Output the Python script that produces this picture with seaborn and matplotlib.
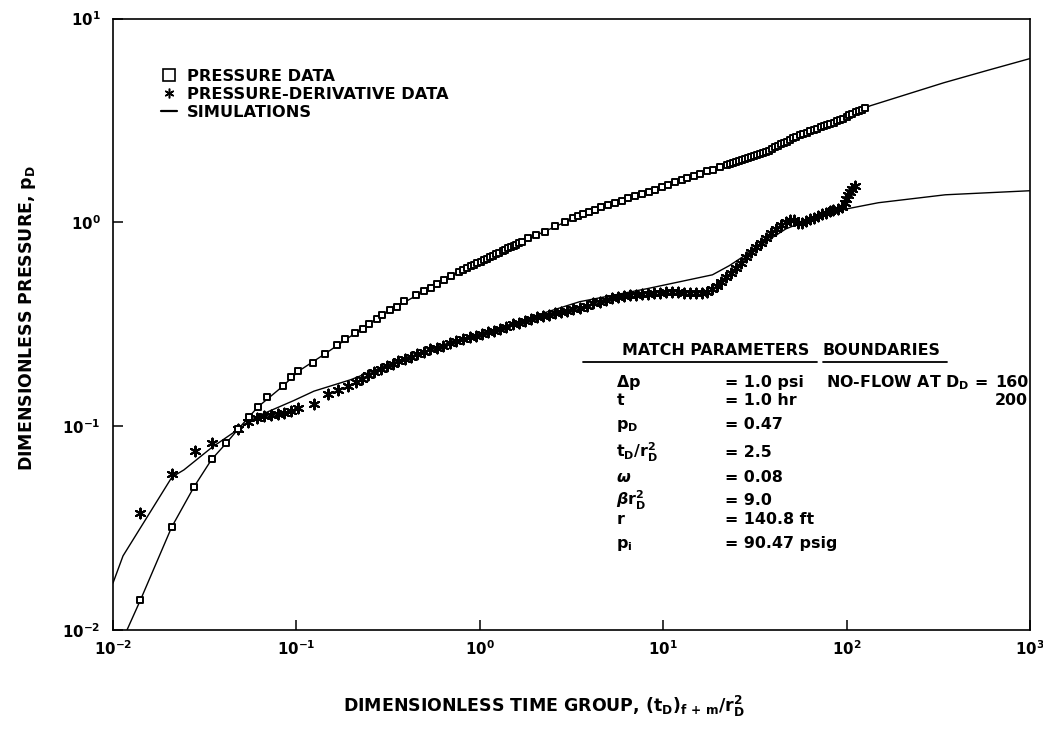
import pandas as pd
import seaborn as sns
import matplotlib.pyplot as plt
from matplotlib.lines import Line2D

# ---- datos ----
t_pres = [0.0141, 0.0209, 0.0277, 0.0345, 0.0415, 0.0482, 0.0552, 0.0618, 0.0690, 0.0841,
          0.0929, 0.1026, 0.1236, 0.1434, 0.1671, 0.1841, 0.2087, 0.2297, 0.2484, 0.2739,
          0.2945, 0.322, 0.352, 0.3877, 0.4517, 0.4976, 0.543, 0.5855, 0.6388, 0.6974, 0.770,
          0.81, 0.85, 0.89, 0.93, 0.97, 1.01, 1.05, 1.09, 1.13, 1.18, 1.23, 1.28, 1.33, 1.38,
          1.43, 1.48, 1.53, 1.58, 1.63, 1.69,
          1.838, 2.035, 2.279, 2.577, 2.923, 3.229, 3.435,
          3.659, 3.942, 4.250, 4.575, 4.997, 5.455, 5.949, 6.414, 7.001, 7.636, 8.339, 8.988,
          9.80, 10.56, 11.54, 12.59, 13.56, 14.81, 15.95, 17.42, 18.78, 20.50, 22.36, 23.2,
          24.10, 25.0, 25.99, 27.0, 28.02, 29.1, 30.19, 31.3, 32.54, 33.8, 35.04, 36.4, 37.78,
          39.2, 40.69, 42.2, 43.87, 45.5, 47.30, 49.1, 50.94, 53.2, 55.62, 58.1, 60.72, 63.4,
          66.22, 69.2, 72.28, 75.0, 77.85, 81.3, 84.99, 88.2, 91.5, 95.6, 99.9, 103.7, 107.6,
          112.5, 117.5, 121.7, 126.0]
p_pres = [0.0140, 0.0320, 0.0505, 0.0687, 0.0826, 0.0969, 0.1115, 0.1245, 0.1385, 0.1567,
          0.1738, 0.186, 0.204, 0.2265, 0.249, 0.2664, 0.2857, 0.299, 0.3174, 0.3348,
          0.3513, 0.3727, 0.3852, 0.4089, 0.438, 0.4588, 0.4754, 0.4972, 0.521, 0.546, 0.571,
          0.584, 0.596, 0.608, 0.619, 0.631, 0.642, 0.653, 0.663, 0.673, 0.686, 0.698, 0.711,
          0.722, 0.734, 0.745, 0.756, 0.767, 0.778, 0.788, 0.801,
          0.840, 0.869, 0.900, 0.955, 0.999, 1.045, 1.072,
          1.097, 1.123, 1.156, 1.191, 1.220, 1.248, 1.278, 1.309, 1.340, 1.379, 1.413, 1.446,
          1.489, 1.525, 1.570, 1.617, 1.646, 1.695, 1.736, 1.777, 1.810, 1.863, 1.907, 1.930,
          1.954, 1.977, 2.000, 2.018, 2.036, 2.060, 2.085, 2.115, 2.146, 2.165, 2.184, 2.216,
          2.249, 2.289, 2.329, 2.370, 2.412, 2.447, 2.483, 2.533, 2.584, 2.630, 2.677, 2.717,
          2.757, 2.798, 2.839, 2.881, 2.923, 2.958, 2.993, 3.037, 3.082, 3.128, 3.174, 3.230,
          3.286, 3.344, 3.403, 3.46, 3.52, 3.575, 3.63]

t_deriv = [0.0141, 0.02097, 0.02788, 0.0345, 0.0483, 0.0547, 0.0611, 0.0667, 0.0729, 0.0796,
           0.0858, 0.0937, 0.1022, 0.1249, 0.1485, 0.1684, 0.1907, 0.2109, 0.2271, 0.2447,
           0.2640, 0.2877, 0.3102, 0.3342, 0.3602, 0.3886, 0.4190, 0.4568, 0.4989, 0.5373,
           0.5865, 0.6324, 0.6905, 0.7444, 0.8120, 0.8866, 0.9559, 1.031, 1.110, 1.197,
           1.290, 1.391, 1.517, 1.636, 1.764, 1.902, 2.048, 2.208, 2.381, 2.567,
           2.768, 2.985, 3.215, 3.510, 3.832, 4.131, 4.506, 4.859, 5.238, 5.647,
           6.089, 6.559, 7.072, 7.624, 8.221, 8.866, 9.559, 10.30, 11.11, 11.98,
           12.92, 13.93, 15.02, 16.20, 17.24, 18.36, 19.53, 20.79, 22.11, 23.54,
           25.03, 26.62, 28.36, 30.16, 32.06, 34.14, 36.31, 38.61, 41.11, 43.72,
           46.56, 48.95, 51.48, 54.13, 56.91, 59.84, 62.92, 66.08, 69.48, 73.06,
           76.82, 80.77, 84.83, 89.21, 93.80, 97.4, 99.7, 102.2, 104.8, 107.4, 111.4]
p_deriv = [0.0373, 0.0582, 0.0757, 0.0831, 0.0967, 0.1047, 0.1097, 0.1124, 0.1138, 0.1152,
           0.1166, 0.1181, 0.1221, 0.1282, 0.1438, 0.1508, 0.1579, 0.1654, 0.1713, 0.1774,
           0.1835, 0.1900, 0.1968, 0.2016, 0.2087, 0.2135, 0.2186, 0.2264, 0.2318, 0.2401,
           0.2431, 0.2487, 0.2547, 0.2608, 0.2671, 0.2735, 0.2769, 0.2836, 0.2900, 0.2936,
           0.3007, 0.3079, 0.3189, 0.3225, 0.3266, 0.3344, 0.3424, 0.3463, 0.3506, 0.3591,
           0.3636, 0.3681, 0.3765, 0.3812, 0.3904, 0.3998, 0.4048, 0.4145, 0.4240, 0.4293,
           0.4346, 0.4401, 0.4406, 0.4457, 0.4462, 0.4518, 0.4523, 0.4574, 0.4528, 0.4533,
           0.4486, 0.4491, 0.4494, 0.4496, 0.4553, 0.4710, 0.4878, 0.5109, 0.5408, 0.5664,
           0.6000, 0.6348, 0.6726, 0.7120, 0.7541, 0.7898, 0.8363, 0.8851, 0.9271, 0.9710,
           1.005, 1.029, 1.029, 0.9954, 0.996, 1.019, 1.043, 1.056, 1.080, 1.093,
           1.106, 1.132, 1.145, 1.160, 1.186, 1.242, 1.300, 1.360, 1.408, 1.457, 1.507]

# simulaciones
t_sim_pres = [0.01192, 0.0141, 0.0209, 0.0277, 0.0345, 0.0415, 0.0482, 0.0618, 0.0841, 0.1026,
              0.1434, 0.2087, 0.2945, 0.4517, 0.770, 1.69, 3.435, 9.80, 22.36, 55.62, 117.5,
              134.5, 339.0, 580.0, 1000.0]
p_sim_pres = [0.0100, 0.0140, 0.0320, 0.0505, 0.0687, 0.0826, 0.0969, 0.1245, 0.1567, 0.186,
              0.2265, 0.2857, 0.3513, 0.438, 0.571, 0.801, 1.072, 1.489, 1.907, 2.677, 3.52,
              3.73, 4.84, 5.55, 6.36]
t_sim_deriv = [0.0100, 0.01134, 0.02097, 0.02435, 0.0345, 0.0483, 0.0619, 0.0970, 0.1246,
               0.1978, 0.3694, 0.6905, 1.290, 2.127, 3.505, 8.120, 18.55, 22.93, 34.56, 46.62,
               64.53, 98.6, 149.1, 345.3, 1000.0]
p_sim_deriv = [0.0170, 0.0231, 0.0563, 0.0610, 0.0785, 0.0967, 0.1122, 0.1337, 0.1485,
               0.1690, 0.2111, 0.2576, 0.3041, 0.3542, 0.4080, 0.4721, 0.5527, 0.6130, 0.7806,
               0.9282, 1.044, 1.161, 1.248, 1.365, 1.429]

x_ticks = [1e-2, 1e-1, 1e0, 1e1, 1e2, 1e3]
x_ticklabels = [r'$10^{-2}$', r'$10^{-1}$', r'$10^{0}$', r'$10^{1}$', r'$10^{2}$', r'$10^{3}$']
y_ticks = [1e-2, 1e-1, 1e0, 1e1]
y_ticklabels = [r'$10^{-2}$', r'$10^{-1}$', r'$10^{0}$', r'$10^{1}$']

param_names = [r'$\Delta p$', r'$t$', r'$p_D$', r'$t_D/r_D^2$', r'$\mathit{\omega}$',
               r'$\mathit{\beta}r_D^2$', r'$r$', r'$p_i$']
param_values = ['= 1.0 psi', '= 1.0 hr', '= 0.47', '= 2.5', '= 0.08', '= 9.0',
                '= 140.8 ft', '= 90.47 psig']
boundaries = ['160', '200']

# ---- estilo ----
sns.set_style('ticks')
plt.rcParams['font.family'] = ['DejaVu Sans']
plt.rcParams['font.weight'] = 'bold'
plt.rcParams.update({
    'text.color': 'black',
    'axes.labelcolor': 'black',
    'xtick.color': 'black',
    'ytick.color': 'black',
    'axes.edgecolor': 'black',
    'mathtext.fontset': 'custom',
    'mathtext.rm': 'DejaVu Sans:bold',
    'mathtext.it': 'DejaVu Sans:bold:italic',
    'mathtext.bf': 'DejaVu Sans:bold',
    'mathtext.default': 'rm',
})

W, H = 1043, 732


def fx(px):
    return px / W


def fy(py):
    return 1 - py / H


fig = plt.figure(figsize=(W / 100, H / 100), dpi=100)
ax = fig.add_axes([fx(113), fy(630), 917 / W, 611.5 / H])
ax.set_xscale('log')
ax.set_yscale('log')

df_pres = pd.DataFrame({'t': t_pres, 'p': p_pres})
df_deriv = pd.DataFrame({'t': t_deriv, 'p': p_deriv})
df_sim_p = pd.DataFrame({'t': t_sim_pres, 'p': p_sim_pres})
df_sim_d = pd.DataFrame({'t': t_sim_deriv, 'p': p_sim_deriv})

sns.lineplot(data=df_sim_p, x='t', y='p', sort=False, estimator=None,
             color='black', lw=1.0, ax=ax, zorder=2)
sns.lineplot(data=df_sim_d, x='t', y='p', sort=False, estimator=None,
             color='black', lw=1.0, ax=ax, zorder=2)
sns.scatterplot(data=df_deriv, x='t', y='p', marker=(6, 2, 0), s=50,
                color='black', linewidth=1.5, ax=ax, zorder=3)
sns.scatterplot(data=df_pres, x='t', y='p', marker='s', s=24,
                facecolor='white', edgecolor='black', linewidth=1.4, ax=ax, zorder=4)

ax.set_xlim(1e-2, 1e3)
ax.set_ylim(1e-2, 1e1)
ax.set_xticks(x_ticks)
ax.set_xticklabels(x_ticklabels)
ax.set_yticks(y_ticks)
ax.set_yticklabels(y_ticklabels)
ax.minorticks_off()
ax.tick_params(direction='in', length=7, width=1.1, labelsize=10.8, color='black',
               labelcolor='black')
ax.tick_params(axis='x', pad=7)
ax.tick_params(axis='y', pad=9)
ax.set_xlabel('')
ax.set_ylabel('')
for sp in ax.spines.values():
    sp.set_visible(True)
    sp.set_linewidth(1.2)
    sp.set_color('black')

# leyenda
handles = [
    Line2D([], [], ls='none', marker='s', ms=8, mfc='white', mec='black', mew=1.2),
    Line2D([], [], ls='none', marker=(6, 2, 0), ms=7, mec='black', mew=1.1),
    Line2D([], [], color='black', lw=1.6),
]
ax.legend(handles, ['PRESSURE DATA', 'PRESSURE-DERIVATIVE DATA', 'SIMULATIONS'],
          loc='upper left', bbox_to_anchor=(fx(161), fy(69)), bbox_transform=fig.transFigure,
          frameon=False, borderpad=0, borderaxespad=0, handlelength=1.0,
          handletextpad=0.6, labelspacing=0.18, prop={'weight': 'bold', 'size': 11.7})

# etiquetas de ejes
fig.text(fx(343), fy(712), r'DIMENSIONLESS TIME GROUP, $(t_D)_{f\,+\,m}/r_D^2$',
         ha='left', va='baseline', fontsize=12.5, fontweight='bold')
fig.text(fx(32), fy(318), r'DIMENSIONLESS PRESSURE, $p_D$', rotation=90,
         rotation_mode='anchor', ha='center', va='baseline', fontsize=12.5, fontweight='bold')

# tabla de parametros
fs = 11.4
fig.text(fx(622), fy(355), 'MATCH PARAMETERS', ha='left', va='baseline', fontsize=fs, fontweight='bold')
fig.text(fx(823), fy(355), 'BOUNDARIES', ha='left', va='baseline', fontsize=fs, fontweight='bold')
fig.add_artist(Line2D([fx(583), fx(817)], [fy(362), fy(362)], color='black', lw=1.3,
                      transform=fig.transFigure))
fig.add_artist(Line2D([fx(823), fx(947)], [fy(362), fy(362)], color='black', lw=1.3,
                      transform=fig.transFigure))
row_base = [387, 405, 429, 457, 482, 505, 524, 548]
for name, val, yb in zip(param_names, param_values, row_base):
    fig.text(fx(616), fy(yb), name, ha='left', va='baseline', fontsize=fs, fontweight='bold')
    fig.text(fx(725), fy(yb), val, ha='left', va='baseline', fontsize=fs, fontweight='bold')
fig.text(fx(826), fy(387), r'NO-FLOW AT $D_D$ =', ha='left', va='baseline',
         fontsize=fs, fontweight='bold')
fig.text(fx(995), fy(387), boundaries[0], ha='left', va='baseline', fontsize=fs, fontweight='bold')
fig.text(fx(995), fy(405), boundaries[1], ha='left', va='baseline', fontsize=fs, fontweight='bold')

fig.savefig('out.png', dpi=100)
